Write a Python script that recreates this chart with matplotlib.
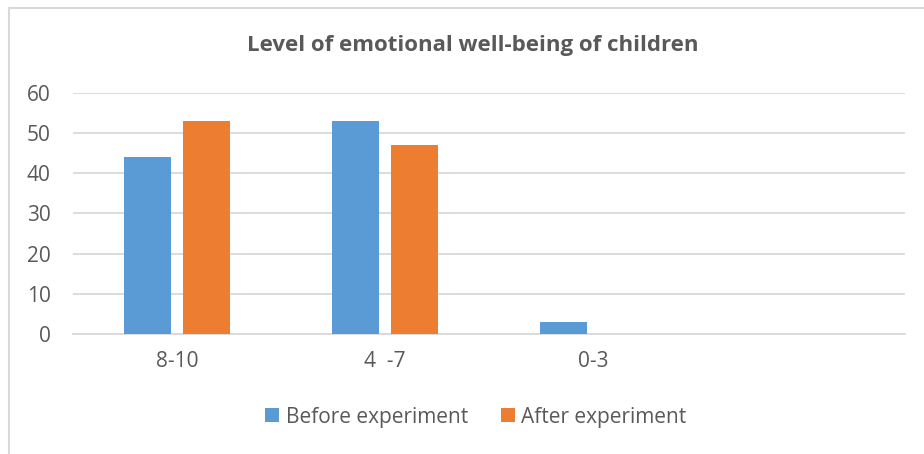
import numpy as np
import matplotlib.pyplot as plt
from matplotlib.lines import Line2D

plt.rcParams['font.family'] = ['Open Sans', 'DejaVu Sans']

# Data
categories = ['8-10', '4  -7', '0-3', '']
before = [44, 53, 3, 0]
after = [53, 47, 0, 0]
series_names = ['Before experiment', 'After experiment']
yticks = [0, 10, 20, 30, 40, 50, 60]

blue = '#5b9bd5'
orange = '#ed7d31'
text_col = '#595959'
grid_col = '#d9d9d9'

fig = plt.figure(figsize=(9.24, 4.54), dpi=100)
ax = fig.add_axes([73 / 924, 120 / 454, 832 / 924, 241 / 454])

# chart area border, only top and left are inside the picture
bx, by = 8.5 / 924, 1 - 7.5 / 454
fig.lines.append(Line2D([bx, bx], [0, by], transform=fig.transFigure,
                        color=grid_col, linewidth=1.5))
fig.lines.append(Line2D([bx, 1], [by, by], transform=fig.transFigure,
                        color=grid_col, linewidth=1.5))

x = np.arange(len(categories))
w = 0.226
off = 0.142
ax.bar(x - off, before, w, color=blue, linewidth=0, label=series_names[0], zorder=3)
ax.bar(x + off, after, w, color=orange, linewidth=0, label=series_names[1], zorder=3)

ax.set_xlim(-0.5, len(categories) - 0.5)
ax.set_ylim(0, 60)
ax.set_yticks(yticks)
ax.set_xticks(x)
ax.set_xticklabels(categories)
ax.yaxis.grid(True, color=grid_col, linewidth=1.3, zorder=0)
ax.tick_params(axis='both', length=0, labelsize=15, labelcolor=text_col)
ax.tick_params(axis='y', pad=16)
ax.tick_params(axis='x', pad=12)
for s in ['top', 'right', 'left']:
    ax.spines[s].set_visible(False)
ax.spines['bottom'].set_color(grid_col)
ax.spines['bottom'].set_linewidth(1.3)

fig.text(473 / 924, 1 - 45 / 454, 'Level of emotional well-being of children',
         ha='center', va='center', fontsize=16, fontweight='bold', color=text_col)

fig.legend(loc='center', bbox_to_anchor=(476 / 924, 1 - 417 / 454), ncol=2,
           frameon=False, fontsize=15, labelcolor=text_col, handlelength=0.67,
           handleheight=0.67, handletextpad=0.3, columnspacing=1.6)

fig.savefig('out.png', dpi=100)
